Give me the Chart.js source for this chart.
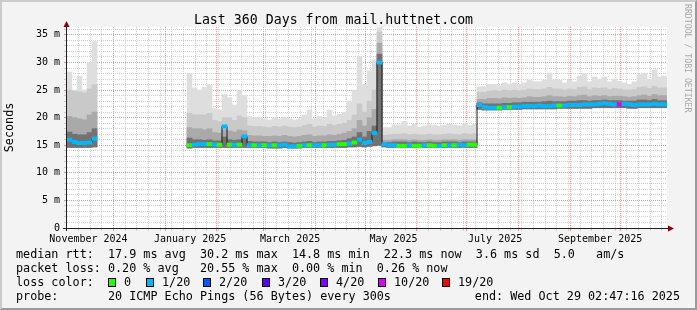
<!DOCTYPE html>
<html><head><meta charset="utf-8">
<script src="https://cdn.jsdelivr.net/npm/chart.js@4.4.1/dist/chart.umd.min.js"></script>
<style>
html,body{margin:0;padding:0;background:#f3f3f3;}
#wrap{position:relative;width:697px;height:310px;overflow:hidden;background:#f3f3f3;font-family:'DejaVu Sans Mono',monospace;color:#000;}
#c{position:absolute;left:0;top:0;}
.t{position:absolute;white-space:pre;font-size:11.75px;line-height:14px;}
.sw{position:absolute;width:8px;height:9px;box-sizing:border-box;border:1px solid #000;}
#frame{position:absolute;left:0;top:0;width:697px;height:310px;box-sizing:border-box;border-top:2px solid #cbcbcb;border-left:2px solid #cbcbcb;border-right:2px solid #9a9a9a;border-bottom:2px solid #9a9a9a;pointer-events:none;}
#wm{position:absolute;left:683px;top:4px;writing-mode:vertical-rl;font-size:8.2px;line-height:10px;color:#a8a8a8;white-space:pre;}
</style></head>
<body>
<div id="wrap">
<canvas id="c" width="697" height="310"></canvas>
<div id="legend"></div>
<div id="wm">RRDTOOL / TOBI OETIKER</div>
<div id="frame"></div>
</div>
<script>
// ---- data: 120 bins of 3 days each, starting Sun 3 Nov 2024 02:47:16 ----
const titleText = 'Last 360 Days from mail.huttnet.com';
const startTime = Date.UTC(2024, 10, 3, 2, 47, 16);
const endTime = Date.UTC(2025, 9, 29, 2, 47, 16);
const binDays = 3;

const maxMs = [28.3,25.0,27.5,25.0,30.0,33.8,
 null,null,null,null,null,null,null,null,null,null,null,null,null,null,null,null,null,null,
 28.0,25.4,25.0,25.5,26.0,21.6,21.4,24.2,23.6,22.3,25.0,24.0,20.2,20.0,20.0,19.8,19.6,20.0,19.8,20.1,19.8,19.6,19.8,20.5,21.4,19.8,20.2,20.0,21.4,20.3,20.6,21.0,23.0,25.0,31.0,26.0,28.5,30.5,36.3,
 18.2,18.2,18.7,18.7,19.3,18.5,18.8,18.3,18.5,18.7,18.6,18.4,18.6,18.8,18.7,18.5,18.9,18.6,18.8,
 25.6,25.6,26.0,26.0,25.8,26.3,26.0,26.3,26.0,26.3,26.8,26.5,26.5,26.8,28.1,26.8,26.8,26.3,26.8,26.5,27.5,28.0,26.5,27.4,27.0,27.4,26.5,27.0,26.6,26.3,26.0,26.5,27.8,28.0,27.0,28.7,27.4,27.5];

const p3Ms = [25.0,24.8,24.7,24.5,25.2,26.0,
 null,null,null,null,null,null,null,null,null,null,null,null,null,null,null,null,null,null,
 20.8,20.5,20.5,20.5,20.8,19.5,19.3,20.0,20.0,19.5,20.3,20.0,18.5,18.4,18.4,18.3,18.2,18.4,18.3,18.5,18.3,18.2,18.3,18.6,18.8,18.3,18.5,18.4,18.8,18.6,18.8,19.0,19.5,20.5,22.5,21.0,23.0,25.0,35.5,
 16.8,16.9,17.0,17.0,17.1,16.9,17.0,16.9,16.9,17.0,16.9,16.9,17.0,17.1,17.0,16.9,17.1,17.0,17.1,
 24.6,24.6,24.8,24.9,24.8,25.0,24.9,25.0,24.9,25.0,25.2,25.1,25.1,25.2,25.5,25.2,25.2,25.0,25.2,25.1,25.5,25.6,25.1,25.4,25.3,25.4,25.1,25.3,25.2,25.0,25.0,25.1,25.5,25.6,25.3,25.7,25.4,25.4];

const p2Ms = [20.2,20.0,19.8,19.6,20.5,21.0,
 null,null,null,null,null,null,null,null,null,null,null,null,null,null,null,null,null,null,
 18.2,18.0,18.0,17.8,18.0,17.3,17.2,17.8,17.6,17.4,17.8,17.6,16.8,16.7,16.7,16.6,16.6,16.7,16.6,16.8,16.6,16.5,16.6,16.8,16.9,16.6,16.7,16.7,16.9,16.8,17.0,17.2,17.5,18.0,19.5,18.5,20.0,21.5,33.5,
 15.9,15.9,16.0,16.0,16.0,15.9,16.0,15.9,15.9,16.0,15.9,15.9,16.0,16.0,16.0,15.9,16.0,16.0,16.0,
 23.3,23.3,23.5,23.5,23.4,23.6,23.5,23.6,23.5,23.6,23.8,23.7,23.7,23.8,24.0,23.8,23.8,23.7,23.9,23.8,24.0,24.1,23.8,24.0,23.9,24.0,23.8,23.9,23.9,23.8,23.7,23.8,24.0,24.1,23.9,24.2,24.0,24.0];

const p1Ms = [17.4,17.0,16.9,16.9,17.3,18.0,
 null,null,null,null,null,null,null,null,null,null,null,null,null,null,null,null,null,null,
 16.3,16.0,16.0,15.9,16.0,15.8,15.8,16.5,16.0,15.9,16.0,16.3,15.7,15.6,15.6,15.6,15.5,15.6,15.5,15.6,15.5,15.4,15.5,15.6,15.7,15.5,15.6,15.6,15.7,15.7,15.8,15.9,16.2,16.5,17.3,16.5,17.5,18.5,31.5,
 15.5,15.5,15.6,15.6,15.6,15.5,15.6,15.5,15.5,15.6,15.5,15.5,15.6,15.6,15.6,15.5,15.6,15.6,15.6,
 22.7,22.5,22.5,22.5,22.5,22.6,22.6,22.7,22.7,22.8,22.8,22.8,22.8,22.9,23.0,22.9,22.9,22.9,23.0,23.0,23.1,23.1,23.0,23.1,23.1,23.2,23.1,23.1,23.1,23.0,23.0,23.0,23.2,23.2,23.1,23.3,23.1,23.1];

const loMs = [14.6,14.6,14.6,14.6,14.6,14.7,
 null,null,null,null,null,null,null,null,null,null,null,null,null,null,null,null,null,null,
 14.5,14.6,14.6,14.6,14.6,14.6,14.6,14.6,14.6,14.6,14.6,14.6,14.6,14.6,14.6,14.6,14.5,14.5,14.5,14.6,14.5,14.5,14.5,14.6,14.6,14.6,14.6,14.6,14.6,14.6,14.6,14.6,14.7,14.7,14.8,14.7,14.8,14.9,15.0,
 14.7,14.6,14.6,14.6,14.6,14.6,14.6,14.6,14.6,14.6,14.6,14.6,14.6,14.6,14.6,14.6,14.6,14.6,14.6,
 21.5,21.4,21.4,21.4,21.4,21.5,21.5,21.5,21.5,21.6,21.6,21.6,21.6,21.6,21.6,21.6,21.7,21.7,21.7,21.7,21.7,21.7,21.7,21.8,21.8,21.8,21.8,21.8,21.8,21.8,21.7,21.7,21.8,21.8,21.8,21.8,21.8,21.8];

const medianMs = [16.0,15.6,15.4,15.4,15.5,16.2,
 null,null,null,null,null,null,null,null,null,null,null,null,null,null,null,null,null,null,
 15.0,15.1,15.2,15.2,15.2,15.1,15.1,18.4,15.1,15.1,15.1,16.6,15.0,15.0,15.0,15.0,15.0,15.0,15.0,15.1,14.8,14.8,14.9,15.0,15.0,15.0,15.0,15.0,15.1,15.1,15.2,15.2,15.3,15.5,16.0,15.4,15.6,17.2,30.0,
 15.2,15.0,15.0,14.9,14.9,15.0,14.9,14.9,15.0,15.0,14.9,14.9,15.0,15.0,15.0,15.1,15.0,15.1,15.1,
 22.3,21.9,21.8,21.8,21.8,21.9,21.9,22.0,22.0,22.1,22.1,22.1,22.2,22.1,22.1,22.2,22.2,22.2,22.3,22.3,22.3,22.4,22.4,22.4,22.5,22.6,22.5,22.4,22.4,22.5,22.4,22.3,22.4,22.4,22.4,22.5,22.4,22.4];

// lost pings out of 20
const lossOf20 = [1,1,1,1,1,1,
 null,null,null,null,null,null,null,null,null,null,null,null,null,null,null,null,null,null,
 0,1,1,1,0,1,0,1,0,1,0,1,1,0,1,0,1,0,1,1,1,1,0,1,0,1,1,0,1,1,0,0,1,0,1,1,1,1,1,
 1,1,1,0,0,1,0,0,1,0,0,1,0,1,0,1,1,0,0,
 1,1,1,1,0,1,0,1,1,1,1,1,1,1,1,1,0,1,1,1,1,1,1,1,1,1,1,1,10,1,1,1,1,1,1,1,1,1];

const lossLevels = [0, 1, 2, 3, 4, 10, 19];
const lossLabels = ['0', '1/20', '2/20', '3/20', '4/20', '10/20', '19/20'];
const lossColors = ['#26ff00', '#00b8ff', '#0059ff', '#5e00ff', '#7e00ff', '#dd00ff', '#ff0000'];

const monthLabels = ['November 2024', 'January 2025', 'March 2025', 'May 2025', 'July 2025', 'September 2025'];
const monthLabelDates = [[2024,10,16],[2025,0,16],[2025,2,17],[2025,4,18],[2025,6,18],[2025,8,19]];

const statLines = [
  'median rtt:  17.9 ms avg  30.2 ms max  14.8 ms min  22.3 ms now  3.6 ms sd  5.0   am/s',
  'packet loss: 0.20 % avg   20.55 % max  0.00 % min  0.26 % now',
  'loss color:',
  'probe:       20 ICMP Echo Pings (56 Bytes) every 300s'
];
const endText = 'end: Wed Oct 29 02:47:16 2025';

// ---- build ----
const DAY = 86400000;
const dayOf = t => (t - startTime) / DAY;
const totalDays = dayOf(endTime);
const categories = maxMs.map((_, i) => new Date(startTime + i * binDays * DAY).toISOString().slice(0, 10));
const colorOfLoss = n => lossColors[lossLevels.indexOf(n)] || '#000';

const xTicks = [];
for (let y = 2024, m = 11; y < 2026; m++) { if (m > 11) { m = 0; y++; } const d = dayOf(Date.UTC(y, m, 1)); if (d > totalDays) break; xTicks.push({ v: d, kind: 'month', label: '' }); }
for (let t = Date.UTC(2024, 10, 10); dayOf(t) <= totalDays; t += 7 * DAY) {
  const d = dayOf(t);
  if (!xTicks.some(k => Math.abs(k.v - d) < 0.01)) xTicks.push({ v: d, kind: 'week', label: '' });
}
monthLabels.forEach((lab, i) => { const [y, m, dd] = monthLabelDates[i]; xTicks.push({ v: dayOf(Date.UTC(y, m, dd)), kind: 'label', label: lab }); });
xTicks.sort((a, b) => a.v - b.v);
const yTicks = []; for (let v = 0; v <= 36; v++) yTicks.push(v);

const MINOR = 'rgba(190,190,190,0.75)';
const MAJOR = 'rgba(222,79,79,0.6)';
const NONE = 'rgba(0,0,0,0)';

const band = (lowArr, highArr) => highArr.map((h, i) => h == null ? null : [lowArr[i], h]);

const rrdPlugin = {
  id: 'rrd',
  beforeDraw(chart) {
    const { ctx, chartArea: a } = chart;
    ctx.save(); ctx.fillStyle = '#ffffff'; ctx.fillRect(a.left, a.top, a.right - a.left, a.bottom - a.top); ctx.restore();
  },
  afterDraw(chart) {
    const { ctx, chartArea: a } = chart;
    ctx.save();
    ctx.strokeStyle = '#202020'; ctx.lineWidth = 1;
    ctx.beginPath(); ctx.moveTo(a.left - 4, a.bottom + 0.5); ctx.lineTo(a.right + 4, a.bottom + 0.5); ctx.stroke();
    ctx.beginPath(); ctx.moveTo(a.left - 0.5, a.bottom + 3); ctx.lineTo(a.left - 0.5, a.top - 3); ctx.stroke();
    ctx.fillStyle = '#8b0000';
    ctx.beginPath(); ctx.moveTo(a.left - 0.5, a.top - 6); ctx.lineTo(a.left - 3.5, a.top); ctx.lineTo(a.left + 2.5, a.top); ctx.closePath(); ctx.fill();
    ctx.beginPath(); ctx.moveTo(a.right + 7, a.bottom + 0.5); ctx.lineTo(a.right + 1, a.bottom - 2.5); ctx.lineTo(a.right + 1, a.bottom + 3.5); ctx.closePath(); ctx.fill();
    ctx.restore();
  }
};

Chart.defaults.font.family = "'DejaVu Sans Mono', monospace";
Chart.defaults.color = '#000';

const common = { type: 'bar', xAxisID: 'x', yAxisID: 'y', grouped: false, barPercentage: 1, categoryPercentage: 1, borderWidth: 0 };

new Chart(document.getElementById('c'), {
  data: {
    labels: categories,
    datasets: [
      Object.assign({}, common, { label: 'median', order: 1, data: medianMs.map(v => v == null ? null : [v - 0.3, v + 0.3]),
        backgroundColor: c => colorOfLoss(lossOf20[c.dataIndex]) }),
      { type: 'line', label: 'median line', order: 2, xAxisID: 'x', yAxisID: 'y', data: medianMs, stepped: 'middle',
        borderColor: '#1a1a1a', borderWidth: 1, pointRadius: 0, fill: false, spanGaps: false },
      Object.assign({}, common, { label: 'smoke 1', order: 3, data: band(loMs, p1Ms), backgroundColor: '#727272' }),
      Object.assign({}, common, { label: 'smoke 2', order: 4, data: band(loMs, p2Ms), backgroundColor: '#a9a9a9' }),
      Object.assign({}, common, { label: 'smoke 3', order: 5, data: band(loMs, p3Ms), backgroundColor: '#c9c9c9' }),
      Object.assign({}, common, { label: 'smoke 4', order: 6, data: band(loMs, maxMs), backgroundColor: '#dedede' })
    ]
  },
  options: {
    responsive: false, animation: false, events: [],
    layout: { padding: { left: 0, right: 30, top: 0, bottom: 0 } },
    plugins: {
      legend: { display: false }, tooltip: { enabled: false },
      title: { display: true, text: titleText, font: { size: 13.25, weight: 'normal' }, color: '#000', padding: { top: 13, bottom: -2 } }
    },
    scales: {
      x: { type: 'category', display: false, offset: true, grid: { display: false } },
      xd: {
        type: 'linear', position: 'bottom', min: 0, max: 360, bounds: 'data', z: 1,
        afterBuildTicks: s => { s.ticks = xTicks.map(t => ({ value: t.v })); },
        afterFit: s => { s.height = 82; },
        grid: {
          color: c => { const k = xTicks[c.index]; return !k ? NONE : k.kind === 'month' ? MAJOR : k.kind === 'week' ? MINOR : NONE; },
          tickColor: c => { const k = xTicks[c.index]; return !k ? NONE : k.kind === 'month' ? MAJOR : k.kind === 'week' ? MINOR : NONE; },
          tickLength: 3, lineWidth: 1, tickBorderDash: []
        },
        border: { display: false, dash: [1, 1] },
        ticks: { autoSkip: false, maxRotation: 0, minRotation: 0, padding: 2, font: { size: 10 }, color: '#000',
          callback: (v, i) => xTicks[i] ? xTicks[i].label : '' }
      },
      y: {
        type: 'linear', min: 0, max: 36.45, bounds: 'data', z: 1,
        afterBuildTicks: s => { s.ticks = yTicks.map(v => ({ value: v })); },
        afterFit: s => { s.width = 67; },
        grid: {
          color: c => c.tick && c.tick.value % 5 === 0 ? MAJOR : MINOR,
          tickColor: c => c.tick && c.tick.value % 5 === 0 ? MAJOR : MINOR,
          tickLength: 3, lineWidth: 1, tickBorderDash: []
        },
        border: { display: false, dash: [1, 1] },
        ticks: { autoSkip: false, padding: 4, font: { size: 10 }, color: '#000',
          callback: v => v % 5 === 0 ? (v === 0 ? '0' : v + ' m') : '' },
        title: { display: true, text: 'Seconds', font: { size: 11.75 }, color: '#000', padding: { top: 3, bottom: 0 } }
      }
    }
  },
  plugins: [rrdPlugin]
});

// ---- legend text (real text) ----
const lg = document.getElementById('legend');
const lineTops = [247, 261, 275, 289];
statLines.forEach((s, i) => { const d = document.createElement('div'); d.className = 't'; d.style.left = '16px'; d.style.top = lineTops[i] + 'px'; d.textContent = s; lg.appendChild(d); });
const swatchX = [108, 146, 203, 262, 320, 378, 442];
lossLabels.forEach((lab, i) => {
  const b = document.createElement('div'); b.className = 'sw'; b.style.left = swatchX[i] + 'px'; b.style.top = '278px'; b.style.background = lossColors[i]; lg.appendChild(b);
  const t = document.createElement('div'); t.className = 't'; t.style.left = (swatchX[i] + 16) + 'px'; t.style.top = lineTops[2] + 'px'; t.textContent = lab; lg.appendChild(t);
});
const e = document.createElement('div'); e.className = 't'; e.style.right = '17px'; e.style.top = lineTops[3] + 'px'; e.textContent = endText; lg.appendChild(e);
</script>
</body></html>
